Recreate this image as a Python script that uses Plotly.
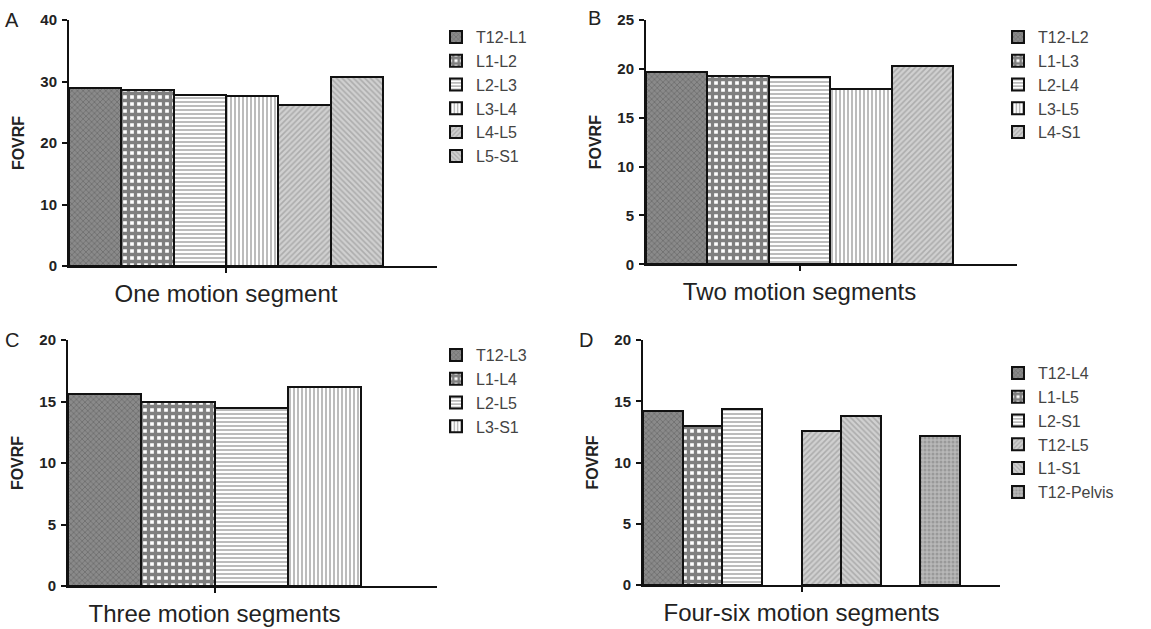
import plotly.graph_objects as go

W, H = 1151, 629

# ---------------- data ----------------
cat_a = "One motion segment"
labels_a = ["T12-L1", "L1-L2", "L2-L3", "L3-L4", "L4-L5", "L5-S1"]
values_a = [28.9, 28.6, 27.8, 27.6, 26.2, 30.7]

cat_b = "Two motion segments"
labels_b = ["T12-L2", "L1-L3", "L2-L4", "L3-L5", "L4-S1"]
values_b = [19.7, 19.3, 19.2, 17.9, 20.3]

cat_c = "Three motion segments"
labels_c = ["T12-L3", "L1-L4", "L2-L5", "L3-S1"]
values_c = [15.6, 15.0, 14.5, 16.2]

cat_d = "Four-six motion segments"
# None entries are empty slots in the group (no bar drawn)
labels_d = ["T12-L4", "L1-L5", "L2-S1", None, "T12-L5", "L1-S1", None, "T12-Pelvis"]
values_d = [14.2, 13.0, 14.4, None, 12.6, 13.8, None, 12.2]

# ---------------- styles ----------------
P = {
    "cross": dict(shape="x", bgcolor="#8a8a8a", fgcolor="#4e4e4e", size=4, solidity=0.35),
    "check": dict(shape="+", bgcolor="#ffffff", fgcolor="#000000", size=7, solidity=0.72),
    "hline": dict(shape="-", bgcolor="#ffffff", fgcolor="#7a7a7a", size=4, solidity=0.5),
    "vline": dict(shape="|", bgcolor="#ffffff", fgcolor="#7a7a7a", size=4, solidity=0.5),
    "fdiag": dict(shape="/", bgcolor="#d0d0d0", fgcolor="#888888", size=4, solidity=0.4),
    "bdiag": dict(shape="\\", bgcolor="#d0d0d0", fgcolor="#888888", size=4, solidity=0.4),
    "dots": dict(shape=".", bgcolor="#b8b8b8", fgcolor="#7a7a7a", size=4, solidity=0.45),
}
pat_a = ["cross", "check", "hline", "vline", "fdiag", "bdiag"]
pat_b = ["cross", "check", "hline", "vline", "fdiag"]
pat_c = ["cross", "check", "hline", "vline"]
pat_d = ["cross", "check", "hline", None, "fdiag", "bdiag", None, "dots"]

fig = go.Figure()

def add_panel(idx, cat, labels, values, pats):
    sfx = "" if idx == 1 else str(idx)
    for lab, val, pk in zip(labels, values, pats):
        if lab is None:
            fig.add_trace(go.Bar(x=[cat], y=[val], xaxis="x" + sfx, yaxis="y" + sfx,
                                 showlegend=False, hoverinfo="skip",
                                 marker=dict(color="rgba(0,0,0,0)", line=dict(width=0))))
            continue
        fig.add_trace(go.Bar(
            x=[cat], y=[val], name=lab, xaxis="x" + sfx, yaxis="y" + sfx,
            legend="legend" + sfx, legendgroup=f"{idx}-{lab}",
            marker=dict(color=P[pk]["bgcolor"], pattern=P[pk],
                        line=dict(color="#111111", width=2)),
        ))

add_panel(1, cat_a, labels_a, values_a, pat_a)
add_panel(2, cat_b, labels_b, values_b, pat_b)
add_panel(3, cat_c, labels_c, values_c, pat_c)
add_panel(4, cat_d, labels_d, values_d, pat_d)

def px(x):
    return x / W

def py(y):
    return (H - y) / H

font_family = "Liberation Sans, Arial, sans-serif"

def xax(x0, x1, right, anchor):
    return dict(domain=[px(x0), px(x1)], anchor=anchor, range=[-0.5, right],
                automargin=False,
                showline=True, linewidth=2, linecolor="#111111", showgrid=False,
                zeroline=False, ticks="outside", ticklen=5, tickwidth=1.5,
                tickcolor="#111111", ticklabelstandoff=0,
                tickfont=dict(size=24, color="#222222", family=font_family))

def yax(y_top, y_bot, rng, dtick, anchor):
    return dict(domain=[py(y_bot), py(y_top)], anchor=anchor, range=rng, dtick=dtick,
                automargin=False,
                showline=True, linewidth=2, linecolor="#111111", showgrid=False,
                zeroline=False, ticks="outside", ticklen=5, tickwidth=1.5,
                tickcolor="#111111", ticklabelstandoff=2,
                tickfont=dict(size=15, color="#222222", family=font_family, weight="bold"),
                title=dict(text="FOVRF", standoff=12,
                           font=dict(size=16, color="#222222", family=font_family, weight="bold")))

def leg(x_left, y_top):
    return dict(x=px(x_left), y=py(y_top), xanchor="left", yanchor="top",
                bgcolor="rgba(0,0,0,0)", tracegroupgap=0,
                font=dict(size=16, color="#444444", family=font_family))

fig.update_layout(
    width=W, height=H, margin=dict(l=0, r=0, t=0, b=0, autoexpand=False),
    paper_bgcolor="white", plot_bgcolor="white",
    barmode="group", bargap=0, bargroupgap=0,
    font=dict(family=font_family),
    xaxis=xax(69, 437, 0.672, "y"),
    yaxis=yax(20, 266, [0, 40], 10, "x"),
    xaxis2=xax(646, 1017, 0.708, "y2"),
    yaxis2=yax(20, 264.3, [0, 25], 5, "x2"),
    xaxis3=xax(68, 437, 0.759, "y3"),
    yaxis3=yax(340, 586, [0, 20], 5, "x3"),
    xaxis4=xax(643, 1000, 0.626, "y4"),
    yaxis4=yax(340, 585, [0, 20], 5, "x4"),
    legend=leg(436, 20),
    legend2=leg(998, 20),
    legend3=leg(436, 338),
    legend4=leg(998, 356),
    showlegend=True,
)

for letter, (x, y) in zip(["A", "B", "C", "D"], [(12, 20), (594, 18), (12, 340), (586, 340)]):
    fig.add_annotation(text=letter, x=px(x), y=py(y), xref="paper", yref="paper",
                       xanchor="center", yanchor="middle", showarrow=False,
                       font=dict(size=20, color="#222222", family=font_family))

fig.write_html(
    "out.html",
    config={"displayModeBar": False},
    post_script="document.body.style.margin='0';document.body.style.padding='0';",
)
